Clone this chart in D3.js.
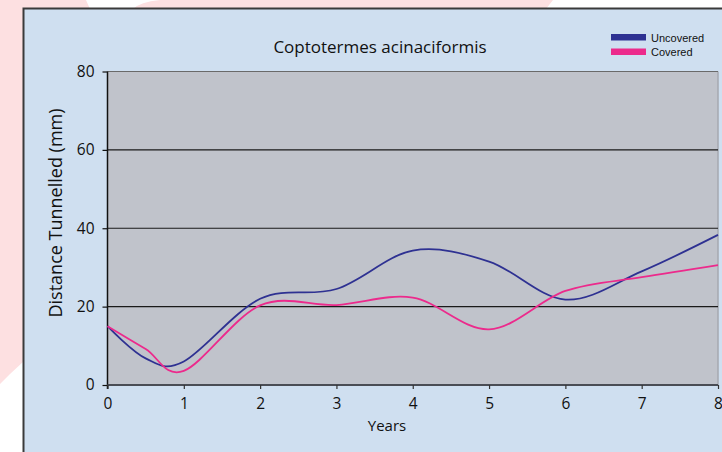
<!DOCTYPE html>
<html>
<head>
<meta charset="utf-8">
<script src="https://cdn.jsdelivr.net/npm/d3@7"></script>
<style>
  body { margin: 0; background: #fff; }
  svg { display: block; font-family: "Open Sans", sans-serif; }
</style>
</head>
<body>
<svg width="722" height="452"></svg>
<script>
(function () {

// data
var years = [0, 0.5, 1, 2, 3, 4, 5, 6, 7, 8];
var uncovered = [15, 6.8, 6, 22, 24.5, 34.3, 31.5, 21.8, 29, 38.3];
var covered = [15, 9.2, 3.6, 20.3, 20.4, 22.3, 14.2, 24, 27.5, 30.6];
var xTicks = [0, 1, 2, 3, 4, 5, 6, 7, 8];
var yTicks = [0, 20, 40, 60, 80];
var seriesNames = ["Uncovered", "Covered"];
var seriesColors = ["#2e3192", "#ec2a8c"];

var svg = d3.select('svg');

// pink decoration behind the panel
svg.append('path')
  .attr('d', 'M0,0 H86 L90,9 H0 Z M0,0 H23 V362 L10,374 L0,384 Z M133,9 Q140,2 160,0 H553 L546,9 Z')
  .style('fill', '#fde0e1');

// panel
svg.append('rect')
  .attr('x', 23.5).attr('y', 8.5)
  .attr('width', 720).attr('height', 460)
  .style('fill', '#cfdff0')
  .style('stroke', '#3a3a3a').style('stroke-width', 2);

var x = d3.scaleLinear().domain([0, 8]).range([107.5, 718]);
var y = d3.scaleLinear().domain([0, 80]).range([385, 71.5]);

// plot area
svg.append('rect')
  .attr('x', x(0)).attr('y', y(80))
  .attr('width', x(8) - x(0)).attr('height', y(0) - y(80))
  .style('fill', '#c0c3cb');

svg.append('line')
  .attr('x1', x(8)).attr('x2', x(8))
  .attr('y1', y(80)).attr('y2', y(0))
  .style('stroke', '#a6a9b0').style('stroke-width', 1.5);

// gridlines
svg.selectAll('.grid')
  .data(yTicks.filter(function (d) { return d > 0; }))
  .enter().append('line')
  .attr('x1', x(0)).attr('x2', x(8))
  .attr('y1', function (d) { return y(d); })
  .attr('y2', function (d) { return y(d); })
  .style('stroke', function (d) { return d === 80 ? '#6a6a6a' : '#1a1a1a'; })
  .style('stroke-width', 1.2);

// axes
var yAxis = svg.append('g')
  .attr('transform', 'translate(' + x(0) + ',0)')
  .call(d3.axisLeft(y).tickValues(yTicks).tickSize(5).tickPadding(8));
yAxis.select('.domain').style('stroke', '#111').style('stroke-width', 1.5)
  .attr('d', 'M0,' + y(80) + 'V' + (y(0) + 4));
yAxis.selectAll('.tick line').style('stroke', '#111').style('stroke-width', 1.2);
yAxis.selectAll('.tick text').style('font-size', '15.5px').style('fill', '#111')
  .style('font-family', '"Open Sans", sans-serif');

var xAxis = svg.append('g')
  .attr('transform', 'translate(0,' + y(0) + ')')
  .call(d3.axisBottom(x).tickValues(xTicks).tickSize(4).tickPadding(9));
xAxis.select('.domain').style('stroke', '#4a4d55').style('stroke-width', 2)
  .attr('d', 'M' + x(0) + ',0H' + x(8));
xAxis.selectAll('.tick line').style('stroke', '#333').style('stroke-width', 1.2);
xAxis.selectAll('.tick text').style('font-size', '15.5px').style('fill', '#111')
  .style('font-family', '"Open Sans", sans-serif');

// lines
var line = function (vals) {
  return d3.line()
    .x(function (d, i) { return x(years[i]); })
    .y(function (d) { return y(d); })
    .curve(d3.curveCardinal.tension(0))(vals);
};

[uncovered, covered].forEach(function (vals, k) {
  svg.append('path')
    .attr('d', line(vals))
    .style('fill', 'none')
    .style('stroke', seriesColors[k])
    .style('stroke-width', 1.8);
});

// titles
svg.append('text')
  .attr('x', 380).attr('y', 53)
  .attr('text-anchor', 'middle')
  .style('font-size', '17px').style('fill', '#111')
  .text('Coptotermes acinaciformis');

svg.append('text')
  .attr('x', 387).attr('y', 431)
  .attr('text-anchor', 'middle')
  .style('font-size', '15px').style('fill', '#111')
  .text('Years');

svg.append('text')
  .attr('transform', 'translate(62,213) rotate(-90)')
  .attr('text-anchor', 'middle')
  .style('font-size', '18px').style('fill', '#111')
  .text('Distance Tunnelled (mm)');

// legend
seriesNames.forEach(function (name, k) {
  svg.append('rect')
    .attr('x', 611).attr('y', 34 + k * 14.5)
    .attr('width', 35).attr('height', 6.5)
    .style('fill', seriesColors[k]);
  svg.append('text')
    .attr('x', 651).attr('y', 42 + k * 13.5)
    .style('font-size', '11px').style('fill', '#111')
    .style('font-family', '"Liberation Sans", sans-serif')
    .text(name);
});

})();
</script>
</body>
</html>
